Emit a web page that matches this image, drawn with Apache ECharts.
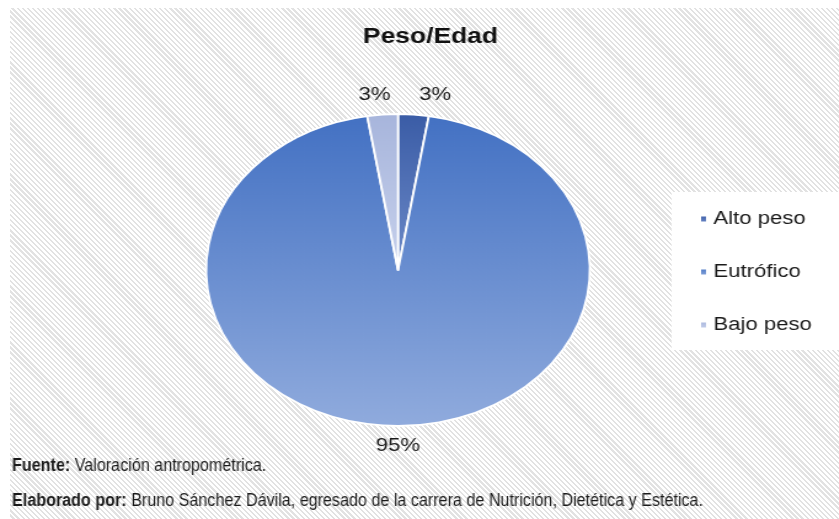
<!DOCTYPE html>
<html>
<head>
<meta charset="utf-8">
<script src="https://cdn.jsdelivr.net/npm/echarts@6/dist/echarts.min.js"></script>
<style>
  html, body { margin: 0; padding: 0; background: #fff; overflow: hidden; }
  #frame { position: relative; width: 839px; height: 519px; background: #fff; overflow: hidden; }
  #hatch {
    position: absolute; left: 10px; top: 8px; right: 0; bottom: 0;
    background: repeating-linear-gradient(45deg, #ffffff 0px, #ffffff 2px, #e2e2e2 2px, #e2e2e2 3.6px);
  }
  #chart { position: absolute; left: 0; top: 0; height: 519px; transform-origin: 0 0; }
</style>
</head>
<body>
<div id="frame">
  <div id="hatch"></div>
  <div id="chart"></div>
</div>
<script>
// Peso/Edad: distribution of weight-for-age categories
const categories = ['Alto peso', 'Eutrófico', 'Bajo peso'];
const counts = [1, 37, 1];
const chartTitle = 'Peso/Edad';
const sourceLine = ['Fuente:', ' Valoración antropométrica.'];
const authorLine = ['Elaborado por:', ' Bruno Sánchez Dávila, egresado de la carrera de Nutrición, Dietética y Estética.'];

// The plot is drawn in a narrower canvas and widened horizontally,
// which turns the round pie into the wide ellipse of the report figure.
const STRETCH = 1.23;
const FULL_W = 839;
const chartW = FULL_W / STRETCH;
const el = document.getElementById('chart');
el.style.width = chartW + 'px';
el.style.transform = 'scaleX(' + STRETCH + ')';

const sliceFills = [
  { type: 'linear', x: 0, y: 0, x2: 0, y2: 1, colorStops: [{ offset: 0, color: '#3a5ca6' }, { offset: 1, color: '#6d8ac8' }] },
  { type: 'linear', x: 0, y: 0, x2: 0, y2: 1, colorStops: [{ offset: 0, color: '#4371c3' }, { offset: 1, color: '#90abdd' }] },
  { type: 'linear', x: 0, y: 0, x2: 0, y2: 1, colorStops: [{ offset: 0, color: '#a7b5dc' }, { offset: 1, color: '#c7d1ec' }] }
];

// Footer uses a condensed look; squeeze it to its printed width.
const FONT = '"Liberation Sans", Arial, sans-serif';
const FOOT_SIZE = 17.5;
const mctx = document.createElement('canvas').getContext('2d');
mctx.font = 'bold ' + FOOT_SIZE + 'px ' + FONT;
const wBold = mctx.measureText(authorLine[0]).width;
mctx.font = FOOT_SIZE + 'px ' + FONT;
const wReg = mctx.measureText(authorLine[1]).width;
const footScale = 691 / ((wBold + wReg) * STRETCH);

const footStyle = (parts) => ({
  text: '{b|' + parts[0] + '}' + parts[1],
  fill: '#1a1a1a', fontFamily: FONT, fontSize: FOOT_SIZE, verticalAlign: 'middle',
  rich: { b: { fontWeight: 'bold', fontFamily: FONT, fontSize: FOOT_SIZE, fill: '#1a1a1a' } }
});

const chart = echarts.init(el, null, { renderer: 'canvas' });
chart.setOption({
  backgroundColor: 'transparent',
  animation: false,
  title: {
    text: chartTitle,
    left: 350,
    top: 26,
    padding: 0,
    textAlign: 'center',
    textStyle: { fontFamily: FONT, fontSize: 21.5, fontWeight: 'bold', color: '#111' }
  },
  legend: {
    orient: 'vertical',
    left: 546,
    top: 192,
    padding: [18, 30, 16, 22],
    backgroundColor: '#ffffff',
    itemWidth: 6,
    itemHeight: 7,
    itemGap: 35,
    icon: 'rect',
    data: categories,
    textStyle: { fontFamily: FONT, fontSize: 18, color: '#1a1a1a', lineHeight: 18 }
  },
  graphic: [
    { type: 'text', x: 12 / STRETCH, y: 466, scaleX: footScale, style: footStyle(sourceLine) },
    { type: 'text', x: 12 / STRETCH, y: 501, scaleX: footScale, style: footStyle(authorLine) }
  ],
  series: [{
    type: 'pie',
    center: [398 / STRETCH, 270],
    radius: [0, 156],
    startAngle: 90,
    clockwise: true,
    avoidLabelOverlap: false,
    itemStyle: { borderColor: '#ffffff', borderWidth: 1.8 },
    label: {
      show: true,
      position: 'outside',
      distanceToLabelLine: 0,
      fontFamily: FONT,
      fontSize: 18,
      color: '#1a1a1a',
      formatter: p => Math.round(p.percent) + '%'
    },
    labelLine: { show: false, length: 20, length2: 0 },
    labelLayout: p => (p.dataIndex === 1 ? { align: 'center' } : { dx: p.align === 'right' ? 8 : 3 }),
    emphasis: { disabled: true },
    data: categories.map((name, i) => ({ name, value: counts[i], itemStyle: { color: sliceFills[i] } }))
  }]
});
</script>
</body>
</html>
